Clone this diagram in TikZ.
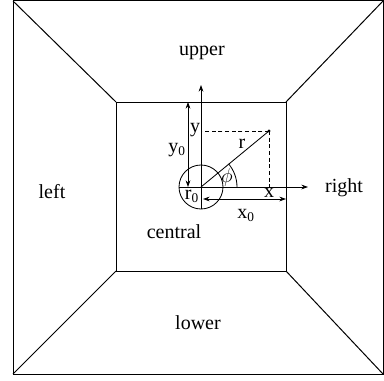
\documentclass[tikz,border=0pt]{standalone}
\usepackage{fontspec}
\setmainfont{Liberation Serif}
\usetikzlibrary{arrows.meta}

\begin{document}
\begin{tikzpicture}[x=0.6pt,y=-0.6pt,>={Stealth[length=1.4mm,width=1mm]},
  wall/.style={draw=black,line width=0.6pt},
  axis/.style={->,line width=0.5pt},
  dim/.style={<->,line width=0.5pt},
  guide/.style={dashed,line width=0.4pt,dash pattern=on 2.4pt off 1.6pt},
  region/.style={font=\fontsize{12}{14}\selectfont},
  every node/.style={font=\fontsize{12}{14}\selectfont,inner sep=1pt}]
  \useasboundingbox (0,0) rectangle (384,380);
  % outer frame and central panel
  \coordinate (oa) at (13,1);   \coordinate (ob) at (383,1);
  \coordinate (oc) at (383,374); \coordinate (od) at (13,374);
  \coordinate (ia) at (116,102); \coordinate (ib) at (286,102);
  \coordinate (ic) at (286,271); \coordinate (id) at (116,271);
  \draw[wall] (oa)--(ob)--(oc)--(od)--cycle;
  \draw[wall] (ia)--(ib)--(ic)--(id)--cycle;
  \draw[wall] (oa)--(ia);
  \draw[wall] (ob)--(ib);
  \draw[wall] (oc)--(ic);
  \draw[wall] (od)--(id);
  \node[region] (upper) at (202,53) {upper};
  \node[region] (left) at (52,192) {left};
  \node[region] (right) at (344,188) {right};
  \node[region] (lower) at (198,323) {lower};
  \node[region] (central) at (174,232) {central};
  % axes through the origin
  \coordinate (O) at (201,187);
  \coordinate (P) at (269,131);
  \coordinate (xs) at (179,187); \coordinate (xe) at (308,187);
  \coordinate (ys) at (201,209); \coordinate (ye) at (201,85);
  \draw[line width=0.5pt] (O) circle[radius=22];
  \draw[axis] (xs)--(xe);
  \draw[axis] (ys)--(ye);
  \draw[line width=0.5pt] (O)--(P);
  \fill (P) circle[radius=1.6];
  \coordinate (Px) at (269,187);
  \coordinate (Py) at (201,131);
  \draw[guide] (P)--(Px);
  \draw[guide] (P)--(Py);
  \draw[line width=0.5pt] ([shift={(0:36)}]O) arc[start angle=0,end angle=-40,radius=36];
  % offsets to the panel edges
  \coordinate (y0t) at (188,102); \coordinate (y0b) at (188,187);
  \coordinate (x0l) at (203,199); \coordinate (x0r) at (286,199);
  \draw[dim] (y0t)--(y0b);
  \draw[dim] (x0l)--(x0r);
  \node (ly0) at (177,150) {y\textsubscript{0}};
  \node (ly) at (195,130) {y};
  \node (lr) at (242,144) {r};
  \node (lphi) at (227,177) {$\phi$};
  \node (lx) at (269,193) {x};
  \node (lx0) at (246,215) {x\textsubscript{0}};
  \node (lr0) at (192,196) {r\textsubscript{0}};
\end{tikzpicture}
\end{document}
